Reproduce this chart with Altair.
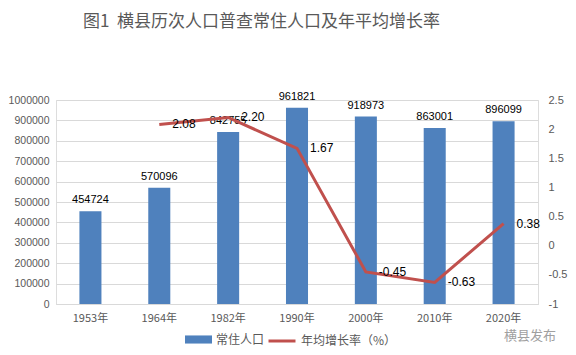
import altair as alt
import pandas as pd

years = ["1953年", "1964年", "1982年", "1990年", "2000年", "2010年", "2020年"]
population = [454724, 570096, 842755, 961821, 918973, 863001, 896099]
rate_years = ["1964年", "1982年", "1990年", "2000年", "2010年", "2020年"]
rates = [2.08, 2.20, 1.67, -0.45, -0.63, 0.38]
rate_labels = ["2.08", "2.20", "1.67", "-0.45", "-0.63", "0.38"]
left_ticks = list(range(0, 1000001, 100000))
right_ticks = [-1, -0.5, 0, 0.5, 1, 1.5, 2, 2.5]
bar_name = "常住人口"
line_name = "年均增长率（%）"
title_text = "图1\u00a0\u00a0横县历次人口普查常住人口及年平均增长率"

pop_df = pd.DataFrame({"year": years, "pop": population, "series": bar_name})
rate_df = pd.DataFrame({"year": rate_years, "rate": rates, "label": rate_labels, "series": line_name})

CJK = "Noto Sans CJK SC"
NUM = "Liberation Sans"
GRAY = "#595959"

x_enc = alt.X(
    "year:N", sort=years,
    scale=alt.Scale(domain=years, paddingInner=0.68, paddingOuter=0.34),
    axis=alt.Axis(title=None, labelAngle=0, ticks=False, domainColor="#D9D9D9",
                  labelColor=GRAY, labelFont=CJK, labelFontSize=11, labelPadding=8, grid=False),
)

left_axis = alt.Axis(title=None, values=left_ticks, format="d", ticks=False, domain=False,
                     grid=True, gridColor="#D9D9D9", labelColor=GRAY, labelFont=NUM,
                     labelFontSize=10.5, labelPadding=7, labelOverlap=False, tickCount=11)
right_axis = alt.Axis(title=None, orient="right", values=right_ticks,
                      labelExpr="'' + datum.value", ticks=False, domain=False, grid=False,
                      labelColor=GRAY, labelFont=NUM, labelFontSize=11, labelPadding=10,
                      labelOverlap=False, tickCount=8)
left_scale = alt.Scale(domain=[0, 1000000], nice=False)
right_scale = alt.Scale(domain=[-1, 2.5], nice=False)

bars = alt.Chart(pop_df).mark_bar().encode(
    x=x_enc,
    y=alt.Y("pop:Q", scale=left_scale, axis=left_axis),
    color=alt.Color("series:N", scale=alt.Scale(domain=[bar_name], range=["#4F81BD"]),
                    legend=alt.Legend(title=None, orient="none", legendX=129, legendY=226,
                                      symbolType="M-1,-0.3H1V0.3H-1Z", symbolSize=729,
                                      symbolStrokeWidth=0, labelFont=CJK, labelFontSize=12,
                                      labelColor=GRAY, labelOffset=4, padding=0)),
)

bar_text = alt.Chart(pop_df).mark_text(baseline="bottom", dy=-6, font=NUM, fontSize=11,
                                       color="#000000").encode(
    x=x_enc, y=alt.Y("pop:Q", scale=left_scale, axis=left_axis),
    text=alt.Text("pop:Q", format="d"))

watermark = alt.Chart(pd.DataFrame({"t": ["横县发布"]})).mark_text(
    align="left", baseline="middle", font=CJK, fontSize=13, color="#a0a0a0").encode(
    text="t:N", x=alt.value(448), y=alt.value(236))

line = alt.Chart(rate_df).mark_line(strokeWidth=3).encode(
    x=x_enc,
    y=alt.Y("rate:Q", scale=right_scale, axis=right_axis),
    stroke=alt.Stroke("series:N", scale=alt.Scale(domain=[line_name], range=["#C0504D"]),
                      legend=alt.Legend(title=None, orient="none", legendX=211, legendY=226,
                                        symbolType="stroke", symbolSize=729,
                                        symbolStrokeWidth=3, labelFont=CJK, labelFontSize=12,
                                        labelColor=GRAY, labelOffset=4, padding=0)),
)

line_text = alt.Chart(rate_df).mark_text(align="left", baseline="middle", dx=13, font=NUM,
                                         fontSize=12, color="#000000").encode(
    x=x_enc, y=alt.Y("rate:Q", scale=right_scale, axis=right_axis), text="label:N")

left_layer = alt.layer(bars, bar_text, watermark)
right_layer = alt.layer(line, line_text)

chart = alt.layer(left_layer, right_layer).resolve_scale(
    y="independent", color="independent", stroke="independent"
).properties(
    width=482, height=204,
    title=alt.TitleParams(title_text, anchor="start", dx=27, offset=60, frame="group",
                          font=CJK, fontSize=17, fontWeight="normal", color=GRAY),
    autosize=alt.AutoSizeParams(type="none"),
    padding={"left": 48, "top": 92, "right": 30, "bottom": 43},
).configure_view(stroke=None).configure(background="#ffffff")

chart.save("out.html", embed_options={"renderer": "svg", "actions": False})
